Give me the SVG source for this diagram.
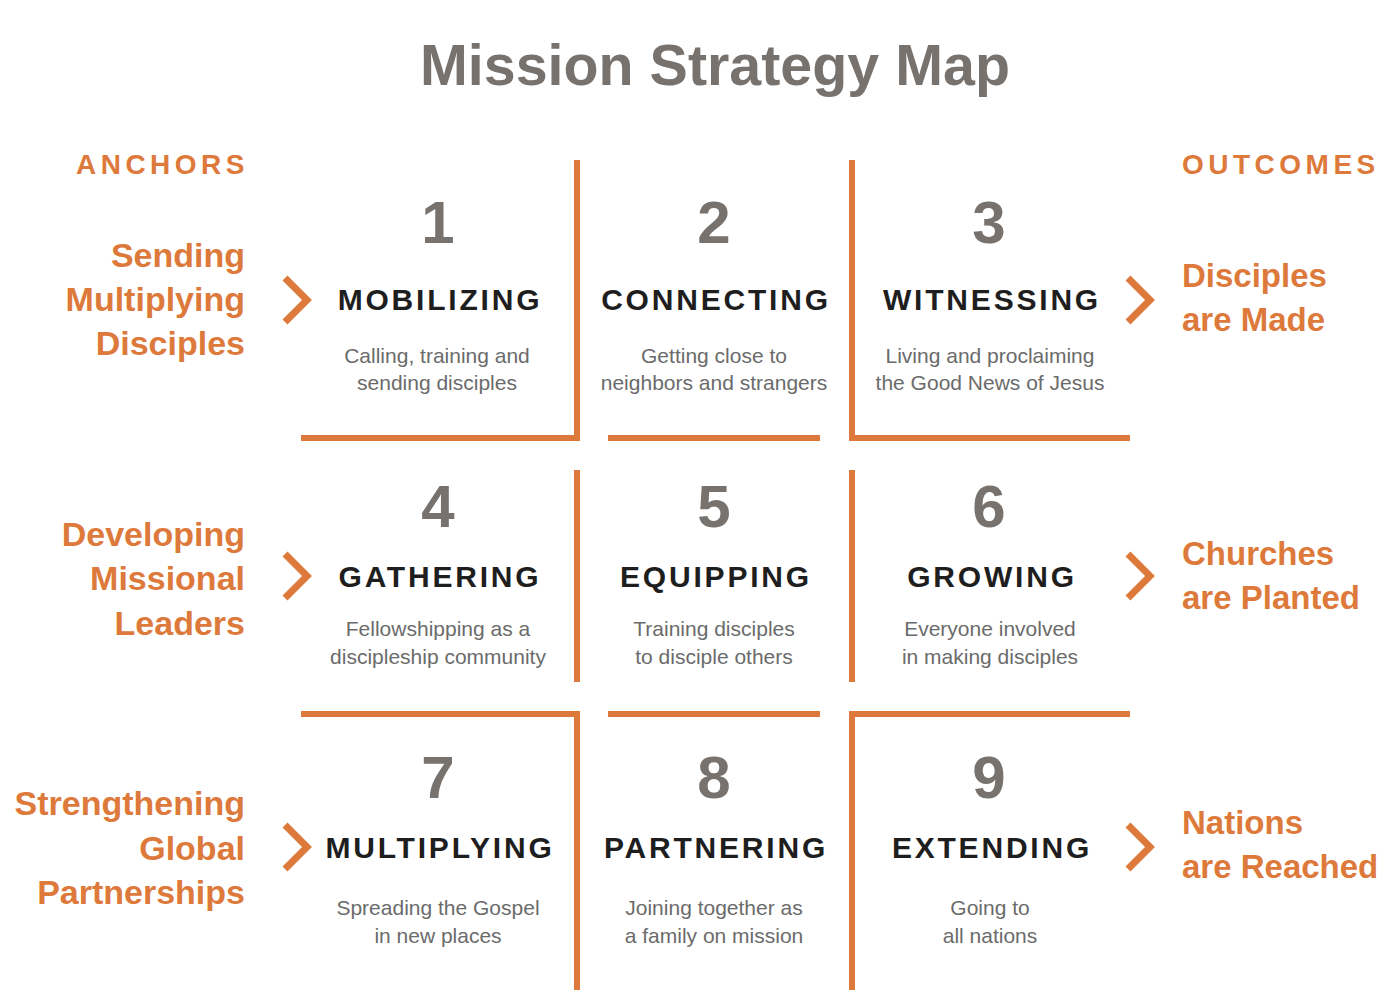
<svg xmlns="http://www.w3.org/2000/svg" width="1400" height="1004" viewBox="0 0 1400 1004">
<style>
.title{font-family:"Liberation Sans",Arial,sans-serif;font-weight:bold;font-size:58px;fill:#77726d}
.hdr{font-family:"Liberation Sans",Arial,sans-serif;font-weight:bold;font-size:28px;letter-spacing:4.5px;fill:#dd7a3b}
.side{font-family:"Liberation Sans",Arial,sans-serif;font-weight:bold;font-size:34px;fill:#dd7a3b}
.out{font-size:33px}
.num{font-family:"Liberation Sans",Arial,sans-serif;font-weight:bold;font-size:60px;fill:#77726d;text-anchor:middle}
.head{font-family:"Liberation Sans",Arial,sans-serif;font-weight:bold;font-size:30px;letter-spacing:2.8px;fill:#1e1e1e;text-anchor:middle}
.desc{font-family:"Liberation Sans",Arial,sans-serif;font-size:21px;fill:#6b6b6b;text-anchor:middle}
.grid{fill:#dd7a3b}
.chev{fill:none;stroke:#dd7a3b;stroke-width:7;stroke-linejoin:miter}
</style>
<rect width="1400" height="1004" fill="#ffffff"/>
<g id="title"><text class="title" x="715" y="85" text-anchor="middle" textLength="590" lengthAdjust="spacingAndGlyphs">Mission Strategy Map</text></g>
<g id="anchors-header"><text class="hdr" x="249" y="174" text-anchor="end">ANCHORS</text></g>
<g id="outcomes-header"><text class="hdr" x="1182" y="174">OUTCOMES</text></g>

<g id="grid">
<rect class="grid" x="574" y="160" width="6" height="281"/>
<rect class="grid" x="301" y="435" width="279" height="6"/>
<rect class="grid" x="608" y="435" width="212" height="6"/>
<rect class="grid" x="849" y="160" width="6" height="281"/>
<rect class="grid" x="849" y="435" width="281" height="6"/>
<rect class="grid" x="574" y="470" width="6" height="212"/>
<rect class="grid" x="849" y="470" width="6" height="212"/>
<rect class="grid" x="301" y="711" width="279" height="6"/>
<rect class="grid" x="574" y="711" width="6" height="279"/>
<rect class="grid" x="608" y="711" width="212" height="6"/>
<rect class="grid" x="849" y="711" width="281" height="6"/>
<rect class="grid" x="849" y="711" width="6" height="279"/>
</g>

<g id="connectors">
<polyline class="chev" points="285,278 307,300 285,322"/>
<polyline class="chev" points="285,554 307,576 285,598"/>
<polyline class="chev" points="285,825 307,847 285,869"/>
<polyline class="chev" points="1128,278 1150,300 1128,322"/>
<polyline class="chev" points="1128,554 1150,576 1128,598"/>
<polyline class="chev" points="1128,825 1150,847 1128,869"/>
</g>

<g id="anchor-1"><text class="side" text-anchor="end"><tspan x="245" y="267">Sending</tspan><tspan x="245" y="311">Multiplying</tspan><tspan x="245" y="355">Disciples</tspan></text></g>
<g id="anchor-2"><text class="side" text-anchor="end"><tspan x="245" y="546">Developing</tspan><tspan x="245" y="590">Missional</tspan><tspan x="245" y="635">Leaders</tspan></text></g>
<g id="anchor-3"><text class="side" text-anchor="end"><tspan x="245" y="815">Strengthening</tspan><tspan x="245" y="860">Global</tspan><tspan x="245" y="904">Partnerships</tspan></text></g>

<g id="outcome-1"><text class="side out"><tspan x="1182" y="287">Disciples</tspan><tspan x="1182" y="331">are Made</tspan></text></g>
<g id="outcome-2"><text class="side out"><tspan x="1182" y="565">Churches</tspan><tspan x="1182" y="609">are Planted</tspan></text></g>
<g id="outcome-3"><text class="side out"><tspan x="1182" y="834">Nations</tspan><tspan x="1182" y="878">are Reached</tspan></text></g>

<g id="cell-1"><text class="num" x="438" y="243">1</text><text class="head" x="440" y="310">MOBILIZING</text><text class="desc" x="437" y="363">Calling, training and</text><text class="desc" x="437" y="390">sending disciples</text></g>
<g id="cell-2"><text class="num" x="714" y="243">2</text><text class="head" x="716" y="310">CONNECTING</text><text class="desc" x="714" y="363">Getting close to</text><text class="desc" x="714" y="390">neighbors and strangers</text></g>
<g id="cell-3"><text class="num" x="989" y="243">3</text><text class="head" x="992" y="310">WITNESSING</text><text class="desc" x="990" y="363">Living and proclaiming</text><text class="desc" x="990" y="390">the Good News of Jesus</text></g>

<g id="cell-4"><text class="num" x="438" y="527">4</text><text class="head" x="440" y="587">GATHERING</text><text class="desc" x="438" y="636">Fellowshipping as a</text><text class="desc" x="438" y="664">discipleship community</text></g>
<g id="cell-5"><text class="num" x="714" y="527">5</text><text class="head" x="716" y="587">EQUIPPING</text><text class="desc" x="714" y="636">Training disciples</text><text class="desc" x="714" y="664">to disciple others</text></g>
<g id="cell-6"><text class="num" x="989" y="527">6</text><text class="head" x="992" y="587">GROWING</text><text class="desc" x="990" y="636">Everyone involved</text><text class="desc" x="990" y="664">in making disciples</text></g>

<g id="cell-7"><text class="num" x="438" y="798">7</text><text class="head" x="440" y="858">MULTIPLYING</text><text class="desc" x="438" y="915">Spreading the Gospel</text><text class="desc" x="438" y="943">in new places</text></g>
<g id="cell-8"><text class="num" x="714" y="798">8</text><text class="head" x="716" y="858">PARTNERING</text><text class="desc" x="714" y="915">Joining together as</text><text class="desc" x="714" y="943">a family on mission</text></g>
<g id="cell-9"><text class="num" x="989" y="798">9</text><text class="head" x="992" y="858">EXTENDING</text><text class="desc" x="990" y="915">Going to</text><text class="desc" x="990" y="943">all nations</text></g>
</svg>
